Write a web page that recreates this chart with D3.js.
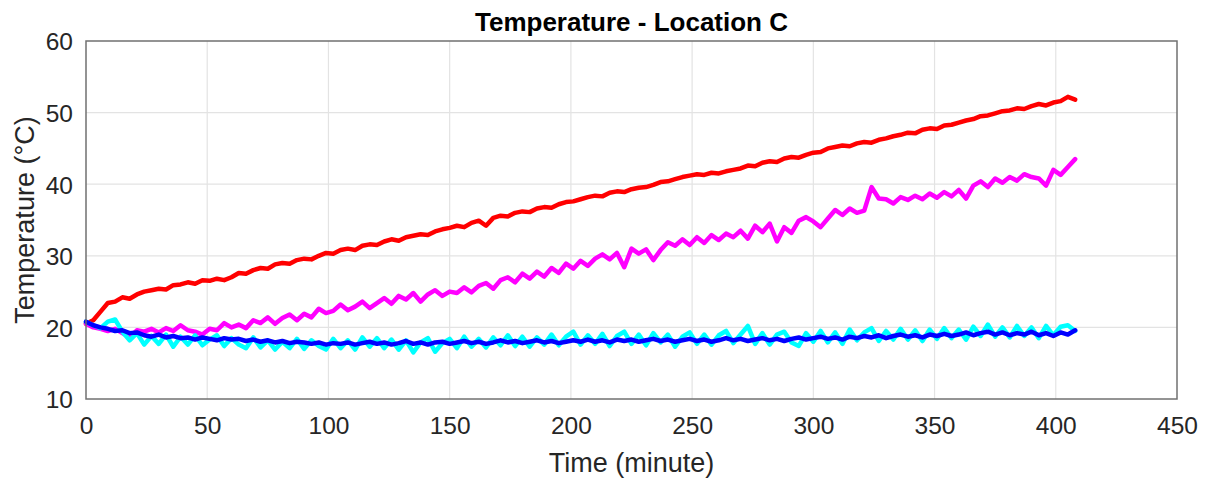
<!DOCTYPE html>
<html>
<head>
<meta charset="utf-8">
<script src="https://cdn.jsdelivr.net/npm/d3@7"></script>
<style>
  html, body { margin: 0; padding: 0; background: #fff; }
  svg { display: block; font-family: "Liberation Sans", Arial, Helvetica, sans-serif; }
</style>
</head>
<body>
<svg id="chart" width="1208" height="480"></svg>
<script>
// Sampling interval of the logger (minutes); readings start at t = 0
const SAMPLE_STEP = 3;

// Temperature readings (°C), one per sample
const sensorRed = [
  20.5, 21.0, 22.2, 23.4, 23.6, 24.2, 24.0, 24.6, 25.0, 25.2,
  25.4, 25.3, 25.9, 26.0, 26.3, 26.1, 26.6, 26.5, 26.8, 26.6,
  27.0, 27.6, 27.5, 28.0, 28.3, 28.2, 28.8, 29.0, 28.9, 29.4,
  29.6, 29.5, 30.0, 30.4, 30.3, 30.8, 31.0, 30.8, 31.4, 31.6,
  31.5, 32.0, 32.3, 32.1, 32.6, 32.8, 33.0, 32.9, 33.4, 33.7,
  33.9, 34.2, 34.0, 34.6, 34.9, 34.2, 35.3, 35.6, 35.5, 36.0,
  36.2, 36.1, 36.6, 36.8, 36.7, 37.2, 37.5, 37.6, 37.9, 38.2,
  38.4, 38.3, 38.8, 39.0, 38.9, 39.3, 39.5, 39.6, 39.9, 40.3,
  40.4, 40.7, 41.0, 41.2, 41.4, 41.3, 41.6, 41.5, 41.8, 42.0,
  42.2, 42.6, 42.5, 43.0, 43.2, 43.1, 43.6, 43.8, 43.7, 44.1,
  44.4, 44.5, 45.0, 45.2, 45.4, 45.3, 45.7, 45.9, 45.8, 46.2,
  46.4, 46.7, 46.9, 47.2, 47.1, 47.6, 47.8, 47.7, 48.2, 48.3,
  48.6, 48.9, 49.1, 49.5, 49.6, 49.9, 50.2, 50.3, 50.6, 50.5,
  50.9, 51.2, 51.0, 51.4, 51.6, 52.2, 51.8
];

const sensorMagenta = [
  20.5, 20.0, 19.8, 19.5, 19.8, 19.2, 18.6, 19.6, 19.4, 19.8,
  19.3, 19.9, 19.5, 20.3, 19.6, 19.4, 19.0, 19.8, 19.6, 20.6,
  20.0, 20.4, 19.9, 21.0, 20.6, 21.4, 20.5, 21.3, 21.8, 21.0,
  21.9, 21.4, 22.6, 22.0, 22.3, 23.2, 22.4, 22.9, 23.6, 22.7,
  23.4, 24.1, 23.3, 24.4, 23.9, 24.8, 23.6, 24.6, 25.2, 24.4,
  25.0, 24.8, 25.6, 24.9, 25.8, 26.2, 25.4, 26.6, 27.0, 26.3,
  27.5, 26.8, 27.8, 27.1, 28.3, 27.6, 28.9, 28.2, 29.3, 28.6,
  29.6, 30.2, 29.5, 30.4, 28.4, 31.0, 30.3, 30.9, 29.4, 30.8,
  31.9, 31.4, 32.3, 31.5, 32.6, 31.8, 32.9, 32.2, 33.1, 32.6,
  33.5, 32.4, 34.2, 33.3, 34.5, 32.0, 34.0, 33.2, 34.9, 35.4,
  34.8, 34.0, 35.2, 36.4, 35.7, 36.6, 36.0, 36.3, 39.6, 38.0,
  37.9, 37.3, 38.2, 37.8, 38.4, 37.9, 38.7, 38.1, 38.9, 38.3,
  39.2, 38.0, 39.8, 40.4, 39.6, 40.8, 40.2, 41.0, 40.5, 41.4,
  41.0, 40.8, 39.8, 42.0, 41.3, 42.4, 43.5
];

const sensorCyan = [
  20.8, 20.3, 19.9, 20.8, 21.1, 19.4, 18.2, 19.2, 17.6, 18.8,
  17.7, 19.0, 17.3, 18.7, 17.6, 18.9, 17.5, 18.3, 18.9, 17.4,
  18.5, 17.6, 17.1, 18.6, 17.2, 18.2, 16.9, 18.0, 17.1, 18.4,
  17.0, 18.2, 17.4, 16.9, 18.4, 17.1, 18.2, 16.9, 18.6, 17.3,
  18.5, 17.1, 18.3, 16.9, 18.2, 16.5, 17.9, 18.5, 16.6, 17.8,
  18.4, 17.1, 18.7, 17.3, 18.4, 17.2, 18.6, 17.5, 18.9, 17.4,
  18.7, 17.3, 18.6, 17.6, 19.0, 17.5, 18.7, 19.4, 17.6, 18.9,
  17.7, 19.1, 17.4, 18.8, 19.4, 17.7, 19.0, 17.5, 19.2, 17.9,
  19.0, 17.3, 18.7, 19.3, 17.7, 19.0, 17.6, 18.9, 19.5, 17.8,
  19.0, 20.2, 17.7, 19.2, 17.6, 19.0, 19.4, 17.9, 17.4, 19.2,
  18.0, 19.5, 17.9, 19.3, 17.7, 19.7, 18.2, 19.3, 19.9, 18.1,
  19.5, 18.3, 19.8, 18.3, 19.6, 18.1, 19.7, 18.4, 19.9, 18.5,
  19.7, 18.3, 20.1, 18.8, 20.4, 18.7, 20.0, 18.6, 20.2, 18.8,
  20.0, 18.5, 20.2, 18.9, 20.1, 20.3, 19.5
];

const sensorBlue = [
  20.8, 20.3, 20.0, 19.8, 19.5, 19.6, 19.2, 19.3, 18.9, 18.7,
  19.0, 18.6, 18.8, 18.5, 18.6, 18.3, 18.6, 18.4, 18.2, 18.5,
  18.3, 18.4, 18.1, 18.3, 18.0, 18.2, 17.9, 18.1, 17.8, 18.0,
  17.9, 17.7, 17.9, 17.6, 17.8, 17.7, 17.9, 17.6, 17.8, 18.0,
  17.7, 17.9, 17.6, 17.8, 18.1, 17.7, 17.9, 17.6, 17.9, 18.0,
  17.7, 17.9, 18.1, 17.8, 18.0, 17.7, 17.9, 18.2, 17.9, 18.1,
  17.8, 18.0, 18.2, 17.9, 18.1, 17.8, 18.0, 18.2, 18.0, 18.3,
  18.0, 18.2, 17.9, 18.3, 18.1, 18.3, 18.0, 18.2, 18.4, 18.1,
  18.3, 18.0, 18.2, 18.4, 18.1, 18.3, 18.0, 18.2, 18.5, 18.2,
  18.4, 18.1, 18.3, 18.5, 18.2, 18.4, 18.1, 18.4, 18.6, 18.3,
  18.5, 18.7, 18.4, 18.6, 18.3, 18.7, 18.5, 18.8, 18.6, 18.9,
  18.5, 18.8, 19.0, 18.7, 18.9, 18.6, 19.0, 18.8, 19.1, 18.8,
  19.0, 19.3, 18.9, 19.2, 19.4, 19.0, 19.3, 18.9, 19.2, 19.0,
  19.4, 18.9, 19.2, 18.8, 19.3, 19.0, 19.6
];

// Axis ticks
const xTicks = [0, 50, 100, 150, 200, 250, 300, 350, 400, 450];
const yTicks = [10, 20, 30, 40, 50, 60];

// Series in drawing order (later ones on top)
const seriesList = [
  { values: sensorRed, color: "#ff0000" },
  { values: sensorMagenta, color: "#ff00ff" },
  { values: sensorCyan, color: "#00ffff" },
  { values: sensorBlue, color: "#0000ff" }
];

const svg = d3.select("#chart");
const margin = { left: 86, right: 31, top: 41, bottom: 81 };
const width = 1208 - margin.left - margin.right;
const height = 480 - margin.top - margin.bottom;

const x = d3.scaleLinear().domain([0, 450]).range([0, width]);
const y = d3.scaleLinear().domain([10, 60]).range([height, 0]);

const g = svg.append("g").attr("transform", `translate(${margin.left},${margin.top})`);

// Grid
g.append("g")
  .selectAll("line")
  .data(xTicks.slice(1, -1))
  .join("line")
  .attr("x1", d => x(d)).attr("x2", d => x(d))
  .attr("y1", 0).attr("y2", height)
  .attr("stroke", "#e3e3e3").attr("stroke-width", 1.2);
g.append("g")
  .selectAll("line")
  .data(yTicks.slice(1, -1))
  .join("line")
  .attr("x1", 0).attr("x2", width)
  .attr("y1", d => y(d)).attr("y2", d => y(d))
  .attr("stroke", "#e3e3e3").attr("stroke-width", 1.2);

// Lines
const line = d3.line()
  .x((d, i) => x(i * SAMPLE_STEP))
  .y(d => y(d));

g.append("g")
  .selectAll("path")
  .data(seriesList)
  .join("path")
  .attr("d", s => line(s.values))
  .attr("fill", "none")
  .attr("stroke", s => s.color)
  .attr("stroke-width", 4.5)
  .attr("stroke-linejoin", "round")
  .attr("stroke-linecap", "round");

// Axes
const xAxis = d3.axisBottom(x).tickValues(xTicks).tickSize(0).tickPadding(17);
const yAxis = d3.axisLeft(y).tickValues(yTicks).tickSize(0).tickPadding(13);

const gx = g.append("g").attr("transform", `translate(0,${height})`).call(xAxis);
const gy = g.append("g").call(yAxis);
[gx, gy].forEach(a => {
  a.select(".domain").remove();
  a.selectAll("text")
    .attr("fill", "#262626")
    .style("font-size", "24.5px")
    .style("font-family", "'Liberation Sans', Arial, sans-serif");
});
gx.selectAll("text").attr("dy", "0.72em");
gy.selectAll("text").attr("dy", "0.36em");

// Box
g.append("rect")
  .attr("x", 0).attr("y", 0)
  .attr("width", width).attr("height", height)
  .attr("fill", "none")
  .attr("stroke", "#707070")
  .attr("stroke-width", 1.5);

// Title and labels
svg.append("text")
  .attr("x", margin.left + width / 2).attr("y", 31)
  .attr("text-anchor", "middle")
  .attr("fill", "#000")
  .style("font-size", "26px").style("font-weight", "bold")
  .text("Temperature - Location C");

svg.append("text")
  .attr("x", margin.left + width / 2).attr("y", 472)
  .attr("text-anchor", "middle")
  .attr("fill", "#262626")
  .style("font-size", "27px")
  .text("Time (minute)");

svg.append("text")
  .attr("transform", `translate(34,${margin.top + height / 2}) rotate(-90)`)
  .attr("text-anchor", "middle")
  .attr("fill", "#262626")
  .style("font-size", "27px")
  .text("Temperature (°C)");
</script>
</body>
</html>
